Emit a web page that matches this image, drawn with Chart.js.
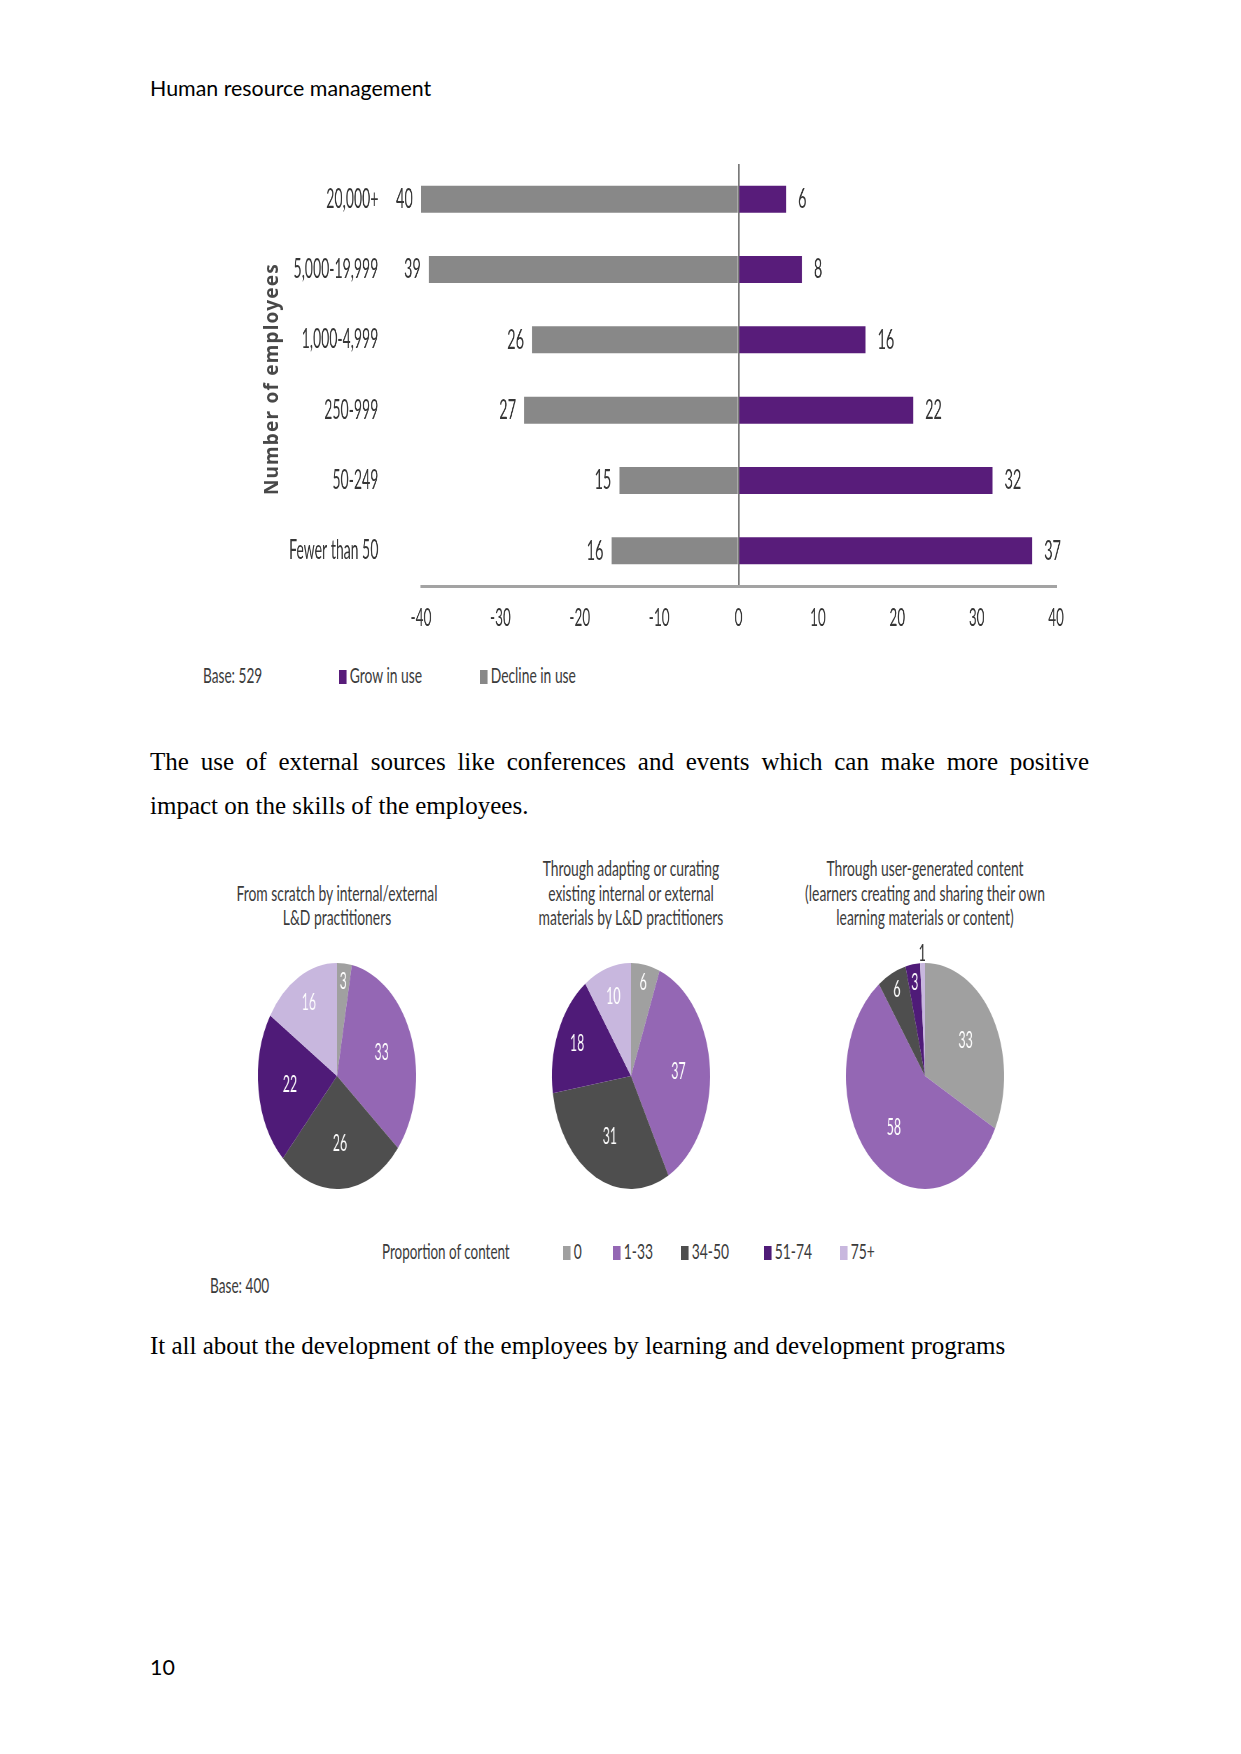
<!DOCTYPE html>
<html>
<head>
<meta charset="utf-8">
<title>Human resource management</title>
<script src="https://cdn.jsdelivr.net/npm/chart.js@4.4.1/dist/chart.umd.min.js"></script>
<style>
  html, body { margin: 0; padding: 0; background: #fff; }
  #page { position: relative; width: 1241px; height: 1754px; overflow: hidden; font-family: Lato, sans-serif; color: #3b3b3b; }
  .abs { position: absolute; white-space: nowrap; }
  .doc { font-family: Lato, sans-serif; font-size: 21.4px; color: #000; line-height: 26px; }
  .serif { font-family: 'Liberation Serif', 'Times New Roman', serif; font-size: 25px; color: #000; line-height: 44px; }
  canvas { position: absolute; transform-origin: 0 0; }
  .lab { font-size: 22px; line-height: 26px; transform-origin: 0 50%; }
  .sq { display: inline-block; width: 12px; height: 14px; margin-right: 5px; vertical-align: -1px; }
  .ptitle { font-size: 21px; line-height: 24.5px; text-align: center; width: 600px; transform-origin: 50% 50%; color: #3b3b3b; }
  #ytitle { font-family: 'Noto Sans', sans-serif; font-weight: bold; font-size: 19px; letter-spacing: 1.2px; color: #484848; width: 300px; text-align: center; line-height: 24px; transform: rotate(-90deg); }
</style>
</head>
<body>
<div id="page">
  <div class="abs doc" style="left:150px; top:75px;">Human resource management</div>

  <canvas id="bars" width="1640" height="495" style="left:204.5px; top:140px; width:1640px; height:495px; transform:scaleX(0.54);"></canvas>
  <div id="ytitle" class="abs" style="left:121px; top:367px;">Number of employees</div>
  <div id="barLegend"></div>

  <div class="abs serif" style="left:150px; top:740px; width:939px; text-align:justify; text-align-last:justify;">The use of external sources like conferences and events which can make more positive</div>
  <div class="abs serif" style="left:150px; top:784px;">impact on the skills of the employees.</div>

  <div id="pieTitles"></div>
  <canvas id="pie0" width="300" height="290" style="left:232px; top:931px; width:300px; height:290px; transform:scaleX(0.7);"></canvas>
  <canvas id="pie1" width="300" height="290" style="left:526px; top:931px; width:300px; height:290px; transform:scaleX(0.7);"></canvas>
  <canvas id="pie2" width="300" height="290" style="left:820px; top:931px; width:300px; height:290px; transform:scaleX(0.7);"></canvas>
  <div id="pieLegend"></div>

  <div class="abs serif" style="left:150px; top:1324px;">It all about the development of the employees by learning and development programs</div>

  <div class="abs doc" style="left:150px; top:1654px;">10</div>
</div>

<script>
// bar chart: change in use by organisation size
const BAR_CATEGORIES = ['20,000+', '5,000-19,999', '1,000-4,999', '250-999', '50-249', 'Fewer than 50'];
const GROW_IN_USE = [6, 8, 16, 22, 32, 37];
const DECLINE_IN_USE = [40, 39, 26, 27, 15, 16];
const BAR_SERIES = ['Grow in use', 'Decline in use'];
const BAR_BASE = 'Base: 529';

// pies: proportion of content created each way
const CONTENT_BANDS = ['0', '1-33', '34-50', '51-74', '75+'];
const FROM_SCRATCH = [3, 33, 26, 22, 16];
const ADAPTING = [6, 37, 31, 18, 10];
const USER_GENERATED = [33, 58, 6, 3, 1];
const PIE_TITLES = [
	['From scratch by internal/external', 'L&D practitioners'],
	['Through adapting or curating', 'existing internal or external', 'materials by L&D practitioners'],
	['Through user-generated content', '(learners creating and sharing their own', 'learning materials or content)']
];
const LEGEND_TITLE = 'Proportion of content';
const PIE_BASE = 'Base: 400';

const PURPLE = '#581c7a';
const GREY = '#888888';
const PIE_COLORS = ['#a0a0a0', '#9467b4', '#4e4e4e', '#4f1b78', '#c8b7de'];
const TEXT = '#363636';

Chart.defaults.font.family = 'Lato';
Chart.defaults.color = TEXT;

const barValueLabels = {
	id: 'barValueLabels',
	afterDatasetsDraw(chart) {
		const ctx = chart.ctx;
		ctx.save();
		ctx.font = '27px Lato';
		ctx.fillStyle = TEXT;
		ctx.textBaseline = 'middle';
		chart.data.datasets.forEach((ds, i) => {
			chart.getDatasetMeta(i).data.forEach((bar, j) => {
				const v = ds.data[j];
				if (v < 0) {
					ctx.textAlign = 'right';
					ctx.fillText(String(-v), bar.x - 15, bar.y);
				} else {
					ctx.textAlign = 'left';
					ctx.fillText(String(v), bar.x + 22, bar.y);
				}
			});
		});
		ctx.restore();
	}
};

new Chart(document.getElementById('bars'), {
	type: 'bar',
	data: {
		labels: BAR_CATEGORIES,
		datasets: [
			{ label: BAR_SERIES[0], data: GROW_IN_USE, backgroundColor: PURPLE },
			{ label: BAR_SERIES[1], data: DECLINE_IN_USE.map(v => -v), backgroundColor: GREY }
		]
	},
	options: {
		indexAxis: 'y',
		responsive: false,
		animation: false,
		devicePixelRatio: 1,
		layout: { padding: { top: 24, right: 64, left: 0, bottom: 0 } },
		datasets: { bar: { barPercentage: 0.384, categoryPercentage: 1 } },
		scales: {
			x: {
				stacked: true,
				min: -40,
				max: 40,
				ticks: { stepSize: 10, padding: 17, font: { size: 25 }, color: TEXT },
				grid: {
					drawTicks: false,
					lineWidth: 3,
					color: c => (c.tick && c.tick.value === 0) ? '#7a7a7a' : 'rgba(0,0,0,0)'
				},
				border: { display: true, color: '#a3a3a3', width: 3 },
				afterFit: s => { s.height = 49; }
			},
			y: {
				stacked: true,
				grid: { display: false, drawTicks: false },
				border: { display: false },
				ticks: { padding: 79, font: { size: 26 }, color: TEXT },
				// the big label gap must not eat into the plot's height
				afterFit: s => { s.width = 400; s.paddingTop = 0; s.paddingBottom = 0; }
			}
		},
		plugins: { legend: { display: false }, tooltip: { enabled: false } }
	},
	plugins: [barValueLabels]
});

const pieValueLabels = {
	id: 'pieValueLabels',
	afterDatasetsDraw(chart) {
		const ctx = chart.ctx;
		const data = chart.data.datasets[0].data;
		const total = data.reduce((a, b) => a + b, 0);
		ctx.save();
		ctx.font = '23px Lato';
		ctx.textAlign = 'center';
		ctx.textBaseline = 'middle';
		chart.getDatasetMeta(0).data.forEach((arc, i) => {
			const share = data[i] / total;
			const f = share < 0.02 ? 1.08 : share < 0.07 ? 0.84 : share < 0.2 ? 0.74 : 0.6;
			const mid = (arc.startAngle + arc.endAngle) / 2;
			const r = arc.outerRadius * f;
			ctx.fillStyle = f > 1 ? TEXT : '#ffffff';
			ctx.save();
			ctx.translate(arc.x + Math.cos(mid) * r, arc.y + Math.sin(mid) * r);
			ctx.scale(0.77, 1);
			ctx.fillText(String(data[i]), 0, 0);
			ctx.restore();
		});
		ctx.restore();
	}
};

[FROM_SCRATCH, ADAPTING, USER_GENERATED].forEach((values, k) => {
	new Chart(document.getElementById('pie' + k), {
		type: 'pie',
		data: {
			labels: CONTENT_BANDS,
			datasets: [{ data: values, backgroundColor: PIE_COLORS, borderWidth: 0 }]
		},
		options: {
			responsive: false,
			animation: false,
			devicePixelRatio: 1,
			layout: { padding: { top: 32, bottom: 32 } },
			plugins: { legend: { display: false }, tooltip: { enabled: false } }
		},
		plugins: [pieValueLabels]
	});
});

// titles above the pies, bottom-aligned
const pieCentres = [337, 631, 925];
const titleBox = document.getElementById('pieTitles');
PIE_TITLES.forEach((lines, k) => {
	const d = document.createElement('div');
	d.className = 'abs ptitle';
	d.style.left = (pieCentres[k] - 300) + 'px';
	d.style.top = (929.5 - lines.length * 24.5) + 'px';
	d.style.transform = 'scaleX(0.66)';
	d.innerHTML = lines.map(l => l.replace(/&/g, '&amp;')).join('<br>');
	titleBox.appendChild(d);
});

function label(parent, html, left, centreY, sx) {
	const d = document.createElement('div');
	d.className = 'abs lab';
	d.style.left = left + 'px';
	d.style.top = (centreY - 13) + 'px';
	d.style.transform = 'scaleX(' + sx + ')';
	d.innerHTML = html;
	parent.appendChild(d);
	return d;
}
const swatch = c => '<span class="sq" style="background:' + c + '"></span>';

// bar legend
const barLegend = document.getElementById('barLegend');
label(barLegend, BAR_BASE, 203, 675, 0.62);
label(barLegend, swatch(PURPLE) + BAR_SERIES[0], 339, 675, 0.63);
label(barLegend, swatch(GREY) + BAR_SERIES[1], 480, 675, 0.63);

// pie legend
const pieLegend = document.getElementById('pieLegend');
const legendX = [563, 613, 681, 764, 840];
label(pieLegend, LEGEND_TITLE, 382, 1251, 0.61);
CONTENT_BANDS.forEach((b, i) => label(pieLegend, swatch(PIE_COLORS[i]) + b, legendX[i], 1251, 0.63));
label(pieLegend, PIE_BASE, 210, 1285, 0.62);
</script>
</body>
</html>
